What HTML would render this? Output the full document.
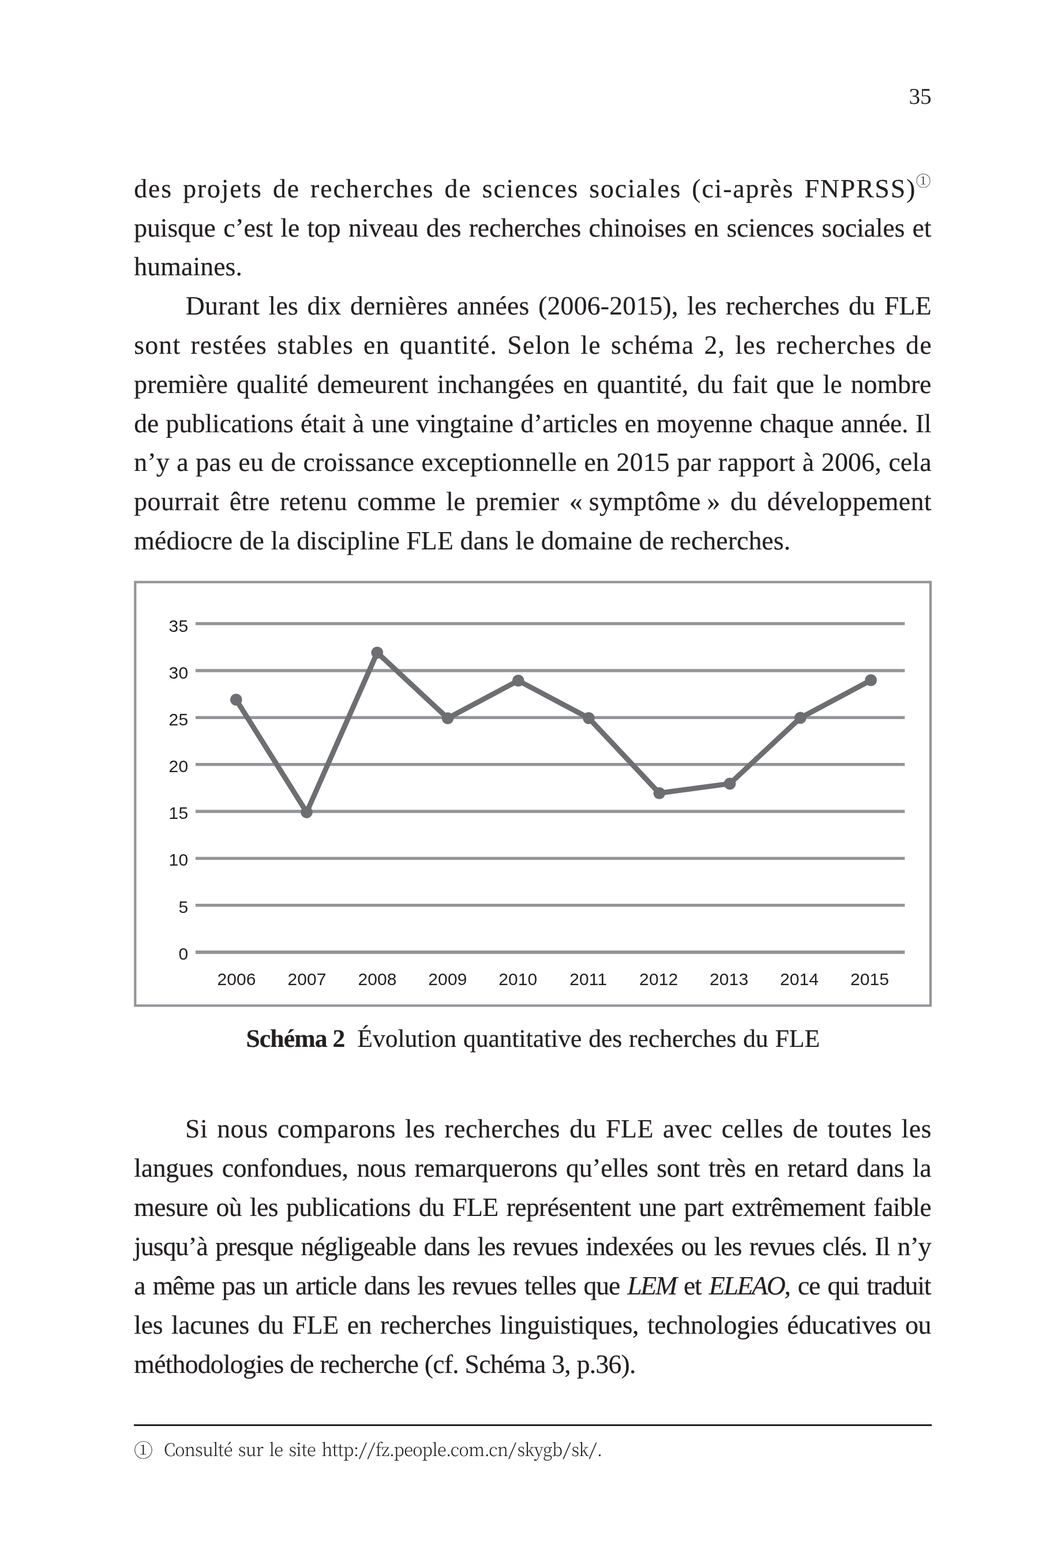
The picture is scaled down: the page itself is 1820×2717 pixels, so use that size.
<!DOCTYPE html>
<html lang="fr"><head><meta charset="utf-8"><title>Page 35</title>
<style>
html,body{margin:0;padding:0;background:#fff;}
body{width:1820px;height:2717px;position:relative;overflow:hidden;font-family:"Liberation Serif",serif;color:#231f20;}
div,span,i,b{font-kerning:none;font-variant-ligatures:none;text-rendering:geometricPrecision;}
.l{position:absolute;white-space:pre;font-size:45.83px;line-height:60px;height:60px;-webkit-text-stroke:0.2px #231f20;}
.pn{position:absolute;white-space:pre;font-size:39.2px;line-height:50px;}
.cap{position:absolute;white-space:pre;font-size:43.75px;line-height:54px;-webkit-text-stroke:0.2px #231f20;}
.fn{position:absolute;white-space:pre;font-family:"Noto Serif CJK SC","Liberation Serif",serif;font-weight:300;line-height:48px;transform-origin:0 50%;}
.c1{position:absolute;white-space:pre;font-family:"Noto Serif CJK SC","Liberation Serif",serif;font-weight:300;}
.rule{position:absolute;left:232px;top:2467.8px;width:1382.5px;height:3.4px;background:#231f20;}
svg{position:absolute;left:0;top:0;}
svg text{font-family:"Liberation Sans",sans-serif;font-size:30px;letter-spacing:0.1px;fill:#231f20;}
</style></head><body>
<div class="pn" id="pn" style="left:1575.4px;top:143px">35</div>
<div class="l" id="a0" style="left:232.30px;top:297.00px;letter-spacing:1.834px;word-spacing:4.956px">des projets de recherches de sciences sociales (ci-après FNPRSS)</div>
<div class="c1" id="sup1" style="font-size:26px;line-height:30px;left:1587.40px;top:298.30px">①</div>
<div class="l" id="a1" style="left:232.30px;top:365.00px;letter-spacing:-0.150px;word-spacing:2.085px">puisque c’est le top niveau des recherches chinoises en sciences sociales et</div>
<div class="l" id="a2" style="left:232.30px;top:432.00px;letter-spacing:0.069px;word-spacing:0.000px">humaines.</div>
<div class="l" id="a3" style="left:321.80px;top:500.00px;letter-spacing:0.161px;word-spacing:3.901px">Durant les dix dernières années (2006-2015), les recherches du FLE</div>
<div class="l" id="a4" style="left:232.30px;top:568.00px;letter-spacing:1.145px;word-spacing:4.521px">sont restées stables en quantité. Selon le schéma 2, les recherches de</div>
<div class="l" id="a5" style="left:232.30px;top:636.00px;letter-spacing:-0.044px;word-spacing:3.772px">première qualité demeurent inchangées en quantité, du fait que le nombre</div>
<div class="l" id="a6" style="left:232.30px;top:704.00px;letter-spacing:-0.250px;word-spacing:1.266px">de publications était à une vingtaine d’articles en moyenne chaque année. Il</div>
<div class="l" id="a7" style="left:232.30px;top:771.00px;letter-spacing:0.170px;word-spacing:0.829px">n’y a pas eu de croissance exceptionnelle en 2015 par rapport à 2006, cela</div>
<div class="l" id="a8" style="left:232.30px;top:839.00px;letter-spacing:0.390px;word-spacing:5.357px">pourrait être retenu comme le premier «<span style="word-spacing:-1.143px"> </span>symptôme<span style="word-spacing:-1.143px"> </span>» du développement</div>
<div class="l" id="a9" style="left:232.30px;top:907.00px;letter-spacing:0.046px;word-spacing:0.000px">médiocre de la discipline FLE dans le domaine de recherches.</div>
<svg width="1820" height="2717" viewBox="0 0 1820 2717">
<rect x="234.3" y="1008.6" width="1378.6" height="733.9" fill="none" stroke="#939598" stroke-width="4.2"/>
<line x1="339" y1="1650.00" x2="1568.3" y2="1650.00" stroke="#939598" stroke-width="6.0"/>
<line x1="339" y1="1568.67" x2="1568.3" y2="1568.67" stroke="#939598" stroke-width="5.3"/>
<line x1="339" y1="1487.34" x2="1568.3" y2="1487.34" stroke="#939598" stroke-width="5.3"/>
<line x1="339" y1="1406.01" x2="1568.3" y2="1406.01" stroke="#939598" stroke-width="5.3"/>
<line x1="339" y1="1324.68" x2="1568.3" y2="1324.68" stroke="#939598" stroke-width="5.3"/>
<line x1="339" y1="1243.35" x2="1568.3" y2="1243.35" stroke="#939598" stroke-width="5.3"/>
<line x1="339" y1="1162.02" x2="1568.3" y2="1162.02" stroke="#939598" stroke-width="5.3"/>
<line x1="339" y1="1080.69" x2="1568.3" y2="1080.69" stroke="#939598" stroke-width="5.3"/>
<polyline points="409.30,1212.42 531.55,1407.48 653.80,1130.83 776.05,1244.56 898.30,1179.37 1020.55,1244.30 1142.80,1374.30 1265.05,1357.90 1387.30,1243.91 1509.55,1178.72" fill="none" stroke="#6d6e71" stroke-width="9" stroke-linejoin="round" stroke-linecap="round"/>
<circle cx="409.30" cy="1212.42" r="10.4" fill="#6d6e71"/>
<circle cx="531.55" cy="1407.48" r="10.4" fill="#6d6e71"/>
<circle cx="653.80" cy="1130.83" r="10.4" fill="#6d6e71"/>
<circle cx="776.05" cy="1244.56" r="10.4" fill="#6d6e71"/>
<circle cx="898.30" cy="1179.37" r="10.4" fill="#6d6e71"/>
<circle cx="1020.55" cy="1244.30" r="10.4" fill="#6d6e71"/>
<circle cx="1142.80" cy="1374.30" r="10.4" fill="#6d6e71"/>
<circle cx="1265.05" cy="1357.90" r="10.4" fill="#6d6e71"/>
<circle cx="1387.30" cy="1243.91" r="10.4" fill="#6d6e71"/>
<circle cx="1509.55" cy="1178.72" r="10.4" fill="#6d6e71"/>
<text x="326.2" y="1662.70" text-anchor="end">0</text>
<text x="326.2" y="1581.59" text-anchor="end">5</text>
<text x="326.2" y="1500.48" text-anchor="end">10</text>
<text x="326.2" y="1419.37" text-anchor="end">15</text>
<text x="326.2" y="1338.26" text-anchor="end">20</text>
<text x="326.2" y="1257.15" text-anchor="end">25</text>
<text x="326.2" y="1176.04" text-anchor="end">30</text>
<text x="326.2" y="1094.93" text-anchor="end">35</text>
<text x="410.10" y="1707.0" text-anchor="middle">2006</text>
<text x="532.03" y="1707.0" text-anchor="middle">2007</text>
<text x="653.96" y="1707.0" text-anchor="middle">2008</text>
<text x="775.89" y="1707.0" text-anchor="middle">2009</text>
<text x="897.82" y="1707.0" text-anchor="middle">2010</text>
<text x="1019.75" y="1707.0" text-anchor="middle">2011</text>
<text x="1141.68" y="1707.0" text-anchor="middle">2012</text>
<text x="1263.61" y="1707.0" text-anchor="middle">2013</text>
<text x="1385.54" y="1707.0" text-anchor="middle">2014</text>
<text x="1507.47" y="1707.0" text-anchor="middle">2015</text>
</svg>
<div class="cap" id="cap1" style="left:426.50px;top:1772.73px;font-weight:bold;letter-spacing:-0.960px">Schéma 2</div>
<div class="cap" id="cap2" style="left:619.30px;top:1772.73px;letter-spacing:-0.100px;word-spacing:1.100px">Évolution quantitative des recherches du FLE</div>
<div class="l" id="b0" style="left:321.00px;top:1926.00px;letter-spacing:0.476px;word-spacing:4.100px">Si nous comparons les recherches du FLE avec celles de toutes les</div>
<div class="l" id="b1" style="left:232.30px;top:1994.00px;letter-spacing:-0.333px;word-spacing:3.590px">langues confondues, nous remarquerons qu’elles sont très en retard dans la</div>
<div class="l" id="b2" style="left:232.30px;top:2062.00px;letter-spacing:-0.702px;word-spacing:3.358px">mesure où les publications du FLE représentent une part extrêmement faible</div>
<div class="l" id="b3" style="left:232.30px;top:2130.00px;letter-spacing:-1.081px;word-spacing:3.119px">jusqu’à presque négligeable dans les revues indexées ou les revues clés. Il n’y</div>
<div class="l" id="b4" style="left:232.30px;top:2198.00px;letter-spacing:-1.243px;word-spacing:3.017px">a même pas un article dans les revues telles que <i style="letter-spacing:-2.393px">LEM</i> et <i style="letter-spacing:-2.393px">ELEAO</i>, ce qui traduit</div>
<div class="l" id="b5" style="left:232.30px;top:2266.00px;letter-spacing:-0.336px;word-spacing:3.588px">les lacunes du FLE en recherches linguistiques, technologies éducatives ou</div>
<div class="l" id="b6" style="left:232.30px;top:2334.00px;letter-spacing:-0.817px;word-spacing:0.000px">méthodologies de recherche (cf. Schéma 3, p.36).</div>
<div class="rule"></div>
<div class="c1" id="fnc" style="font-size:33.00px;line-height:40px;left:232.00px;top:2492.00px">①</div>
<div class="fn" id="fn" style="font-size:30.50px;left:283.50px;top:2486.00px;transform:scaleX(0.9553);letter-spacing:-0.80px;word-spacing:3.60px">Consulté sur le site http:<span style="display:inline-block;transform:scaleX(1.45);margin:0 2.45px;letter-spacing:0">/</span><span style="display:inline-block;transform:scaleX(1.45);margin:0 2.45px;letter-spacing:0">/</span>fz<span style="letter-spacing:-1.75px">.</span>people<span style="letter-spacing:-1.75px">.</span>com<span style="letter-spacing:-1.75px">.</span>cn<span style="display:inline-block;transform:scaleX(1.45);margin:0 3.25px;letter-spacing:0">/</span>skygb<span style="display:inline-block;transform:scaleX(1.45);margin:0 3.25px;letter-spacing:0">/</span>sk<span style="display:inline-block;transform:scaleX(1.45);margin:0 2.45px;letter-spacing:0">/</span>.</div>
</body></html>
